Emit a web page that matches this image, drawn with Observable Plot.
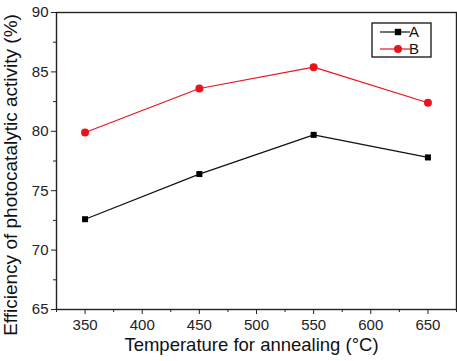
<!DOCTYPE html>
<html>
<head>
<meta charset="utf-8">
<script src="https://cdn.jsdelivr.net/npm/d3@7"></script>
<script src="https://cdn.jsdelivr.net/npm/@observablehq/plot@0.6"></script>
<style>
  html, body { margin: 0; padding: 0; background: #fff; }
  svg { font-family: "Liberation Sans", Arial, sans-serif; overflow: visible; }
</style>
</head>
<body>
<div id="chart"></div>
<script>
const temperatures = [350, 450, 550, 650];
const seriesA = [72.6, 76.4, 79.7, 77.8];
const seriesB = [79.9, 83.6, 85.4, 82.4];
const seriesNames = ["A", "B"];
const xMajorTicks = [350, 400, 450, 500, 550, 600, 650];
const xMinorTicks = [325, 375, 425, 475, 525, 575, 625, 675];
const yMajorTicks = [65, 70, 75, 80, 85, 90];
const yMinorTicks = [67.5, 72.5, 77.5, 82.5, 87.5];
const xTitle = "Temperature for annealing (°C)";
const yTitle = "Efficiency of photocatalytic activity (%)";

const red = "#e8141c";
const dataA = temperatures.map((t, i) => ({t, v: seriesA[i], s: "A"}));
const dataB = temperatures.map((t, i) => ({t, v: seriesB[i], s: "B"}));

const chart = Plot.plot({
  width: 457,
  height: 361,
  marginLeft: 56,
  marginRight: 1,
  marginTop: 12,
  marginBottom: 52,
  style: {fontFamily: "Liberation Sans, Arial, sans-serif", background: "#fff"},
  x: {domain: [325, 675]},
  y: {domain: [65, 90]},
  marks: [
    Plot.frame({stroke: "#222", strokeWidth: 1.4}),
    Plot.axisX({ticks: xMajorTicks, tickSize: 5, tickPadding: 5, fontSize: 15, label: null, stroke: "#222", fill: "#222"}),
    Plot.axisX({ticks: xMinorTicks, tickSize: 3, text: null, label: null, stroke: "#222"}),
    Plot.axisY({ticks: yMajorTicks, tickSize: 5, tickPadding: 3, fontSize: 15, label: null, stroke: "#222", fill: "#222"}),
    Plot.axisY({ticks: yMinorTicks, tickSize: 3, text: null, label: null, stroke: "#222"}),
    Plot.text([xTitle], {frameAnchor: "bottom", dx: -5, dy: 41, fontSize: 18.5, fill: "#111"}),
    Plot.text([yTitle], {frameAnchor: "left", textAnchor: "middle", dx: -46, dy: 14, rotate: -90, fontSize: 19, fill: "#111"}),
    Plot.line(dataA, {x: "t", y: "v", stroke: "#111", strokeWidth: 1.2}),
    Plot.line(dataB, {x: "t", y: "v", stroke: red, strokeWidth: 1.2}),
    Plot.dot(dataA, {x: "t", y: "v", symbol: "square", r: 3.4, fill: "#000", stroke: "none"}),
    Plot.dot(dataB, {x: "t", y: "v", symbol: "circle", r: 4, fill: red, stroke: "none"})
  ]
});

document.getElementById("chart").appendChild(chart);

// Legend drawn inside the plot area
const svg = d3.select(chart);
const lg = svg.append("g").attr("transform", "translate(372,23)");
lg.append("rect").attr("width", 59).attr("height", 34)
  .attr("fill", "#fff").attr("stroke", "#111").attr("stroke-width", 1.3);
const colors = ["#111", red];
seriesNames.forEach((name, i) => {
  const gy = 9 + i * 17;
  lg.append("line").attr("x1", 8).attr("x2", 38).attr("y1", gy).attr("y2", gy)
    .attr("stroke", colors[i]).attr("stroke-width", 1.2);
  if (i === 0) {
    lg.append("rect").attr("x", 26 - 3.2).attr("y", gy - 3.2).attr("width", 6.4).attr("height", 6.4).attr("fill", "#000");
  } else {
    lg.append("circle").attr("cx", 26).attr("cy", gy).attr("r", 4).attr("fill", red);
  }
  lg.append("text").attr("x", 42).attr("y", gy).attr("dy", "0.36em")
    .attr("font-size", 15).attr("fill", "#111").text(name);
});
</script>
</body>
</html>
